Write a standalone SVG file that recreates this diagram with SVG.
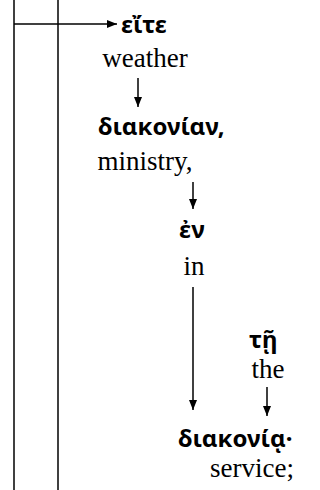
<svg xmlns="http://www.w3.org/2000/svg" width="320" height="490" viewBox="0 0 320 490">
<style>
.gr{font-family:"Noto Sans","DejaVu Sans",sans-serif;font-weight:bold;font-size:24px;fill:#000}
.en{font-family:"Liberation Serif","Times New Roman",serif;font-size:27px;fill:#000;text-anchor:middle}
.ln{stroke:#000;stroke-width:1.5;fill:none}
</style>
<defs>
<marker id="ah" markerWidth="10" markerHeight="8" refX="10" refY="4" orient="auto" markerUnits="userSpaceOnUse">
<path d="M0,0 L10,4 L0,8 Z" fill="#000"/>
</marker>
</defs>
<g id="connectors">
<line class="ln" x1="14" y1="0" x2="14" y2="490"/>
<line class="ln" x1="58" y1="0" x2="58" y2="490"/>
<line class="ln" x1="14" y1="24" x2="117" y2="24" marker-end="url(#ah)"/>
<line class="ln" x1="138" y1="78" x2="138" y2="107" marker-end="url(#ah)"/>
<line class="ln" x1="193" y1="182" x2="193" y2="209" marker-end="url(#ah)"/>
<line class="ln" x1="193" y1="287" x2="193" y2="410" marker-end="url(#ah)"/>
<line class="ln" x1="267" y1="387" x2="267" y2="416" marker-end="url(#ah)"/>
</g>
<g id="n1"><text class="gr" x="121" y="33">εἴτε</text><text class="en" x="145" y="67">weather</text></g>
<g id="n2"><text class="gr" x="98" y="135">διακονίαν,</text><text class="en" x="145" y="170">ministry,</text></g>
<g id="n3"><text class="gr" x="179" y="238">ἐν</text><text class="en" x="194" y="275">in</text></g>
<g id="n4"><text class="gr" x="249" y="348">τῇ</text><text class="en" x="268" y="378">the</text></g>
<g id="n5"><text class="gr" x="178" y="447">διακονίᾳ·</text><text class="en" x="252" y="477">service;</text></g>
</svg>
